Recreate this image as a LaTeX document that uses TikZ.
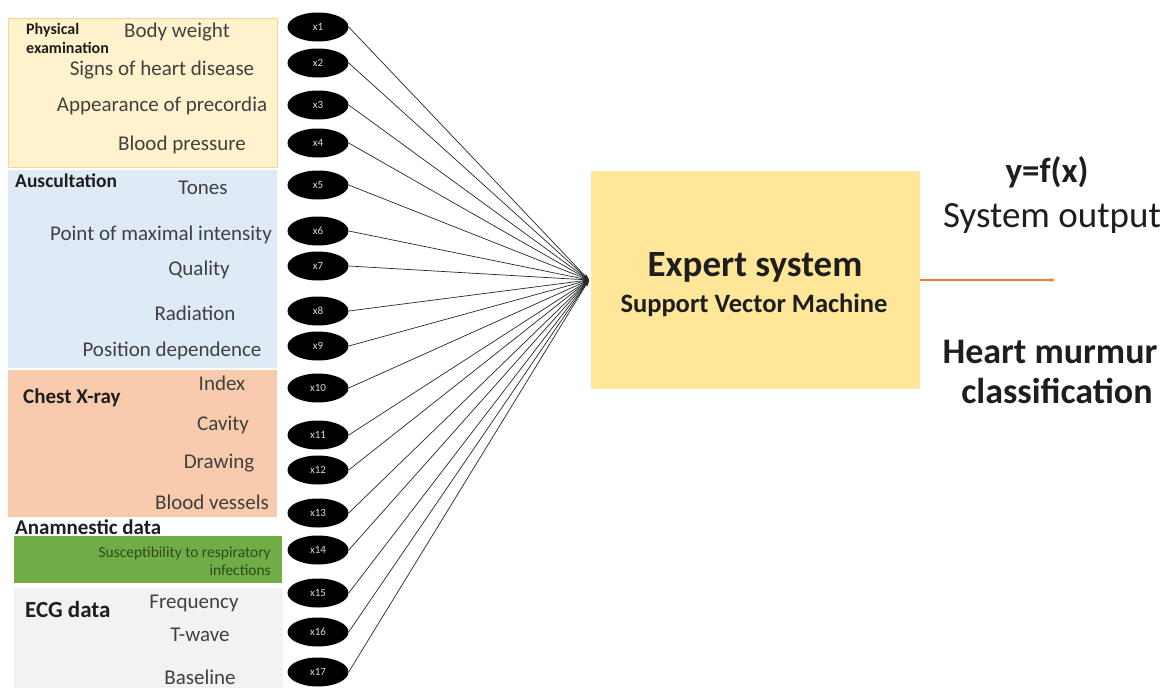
\documentclass[tikz,border=0pt]{standalone}
\usepackage{fontspec}
\setmainfont{Carlito}
\usetikzlibrary{arrows.meta,shapes.geometric}

\definecolor{physfill}{HTML}{FFF2CC}
\definecolor{physline}{HTML}{F4D68C}
\definecolor{auscfill}{HTML}{DEEBF7}
\definecolor{xrayfill}{HTML}{F8CBAD}
\definecolor{anamfill}{HTML}{70AD47}
\definecolor{anamtext}{HTML}{2E4A1E}
\definecolor{ecgfill}{HTML}{F2F2F2}
\definecolor{expfill}{HTML}{FFE699}
\definecolor{outarrow}{HTML}{ED7D31}
\definecolor{labeltext}{HTML}{404040}
\definecolor{headtext}{HTML}{1E1E1E}

\begin{document}
\begin{tikzpicture}[x=1pt,y=-1pt,
  group/.style={anchor=north west, inner sep=0pt, outer sep=0pt, draw=none},
  feat/.style={font=\fontsize{21}{24}\selectfont, text=labeltext, inner sep=0pt},
  head/.style={font=\bfseries\fontsize{#1}{#1}\selectfont, text=headtext, inner sep=0pt, anchor=west},
  var/.style={ellipse, fill=black, minimum width=61pt, minimum height=29pt, inner sep=0pt,
              text=white!85!black, font=\fontsize{11}{13}\selectfont},
  link/.style={draw=black!85, line width=0.7pt, -{Stealth[length=6pt,width=4pt]}},
  outtext/.style={font=\fontsize{37}{39}\selectfont, text=headtext, inner sep=0pt}
]
\useasboundingbox (0,0) rectangle (1167,688);

% --- input groups ---
\node[group, fill=physfill, draw=physline, line width=0.8pt, minimum width=269pt, minimum height=149pt] (phys) at (8,18) {};
\node[group, fill=auscfill, minimum width=269pt, minimum height=198pt] (ausc) at (8,170) {};
\node[group, fill=xrayfill, minimum width=269pt, minimum height=147pt] (xray) at (8,370) {};
\node[group, fill=anamfill, minimum width=268pt, minimum height=47pt] (anam) at (14,536) {};
\node[group, fill=ecgfill, minimum width=269pt, minimum height=100pt] (ecg) at (14,588) {};

% --- group headings ---
\node[head=16, align=left, font=\bfseries\fontsize{16}{19}\selectfont] (hphys) at (26,38) {Physical\\examination};
\node[head=19.5] (hausc) at (15,181) {Auscultation};
\node[head=21] (hxray) at (23,398) {Chest X-ray};
\node[head=21] (hanam) at (15,527) {Anamnestic data};
\node[head=23] (hecg) at (25,610) {ECG data};

% --- features ---
\node[feat] (f1) at (177,32) {Body weight};
\node[feat] (f2) at (162,70) {Signs of heart disease};
\node[feat] (f3) at (162,106) {Appearance of precordia};
\node[feat] (f4) at (182,145) {Blood pressure};
\node[feat] (f5) at (203,188) {Tones};
\node[feat] (f6) at (161,235) {Point of maximal intensity};
\node[feat] (f7) at (199,270) {Quality};
\node[feat] (f8) at (195,313) {Radiation};
\node[feat] (f9) at (172,351) {Position dependence};
\node[feat] (f10) at (222,383) {Index};
\node[feat] (f11) at (223,425) {Cavity};
\node[feat] (f12) at (219,463) {Drawing};
\node[feat] (f13) at (212,502) {Blood vessels};
\node[font=\fontsize{15.5}{18}\selectfont, text=anamtext, align=right, anchor=east, inner sep=0pt] (f14) at (271,561)
  {Susceptibility to respiratory\\infections};
\node[feat] (f15) at (194,603) {Frequency};
\node[feat] (f16) at (200,635) {T-wave};
\node[feat] (f17) at (200,677) {Baseline};

% --- input variables ---
\foreach \i/\y in {1/27,2/63,3/105,4/143,5/185,6/231,7/266,8/311,9/346,10/388,11/435,12/470,13/513,14/550,15/593,16/632,17/672}
  \node[var] (x\i) at (318,\y) {x\i};

% --- expert system ---
\node[group, fill=expfill, minimum width=329pt, minimum height=218pt] (expert) at (591,171) {};
\node[font=\bfseries\fontsize{37}{39}\selectfont, text=headtext, inner sep=0pt] (etitle) at (755,267) {Expert system};
\node[font=\bfseries\fontsize{26.5}{28}\selectfont, text=headtext, inner sep=0pt] (esub) at (754,305) {Support Vector Machine};

\coordinate (hub) at (589,280);
\foreach \i in {1,...,17}
  \draw[link] (x\i.east) -- (hub);

% --- output ---
\coordinate (outend) at (1055,280);
\draw[draw=outarrow, line width=1.2pt, -{Stealth[length=5pt,width=4pt]}] (expert.east) -- (outend);
\node[outtext, font=\bfseries\fontsize{35}{37}\selectfont] (yfx) at (1047,172) {y=f(x)};
\node[outtext] (sysout) at (1052,218) {System output};
\node[outtext, font=\bfseries\fontsize{36}{38}\selectfont] (hm) at (1050,352) {Heart murmur};
\node[outtext, font=\bfseries\fontsize{36}{38}\selectfont] (cls) at (1057,391) {classification};
\end{tikzpicture}
\end{document}
